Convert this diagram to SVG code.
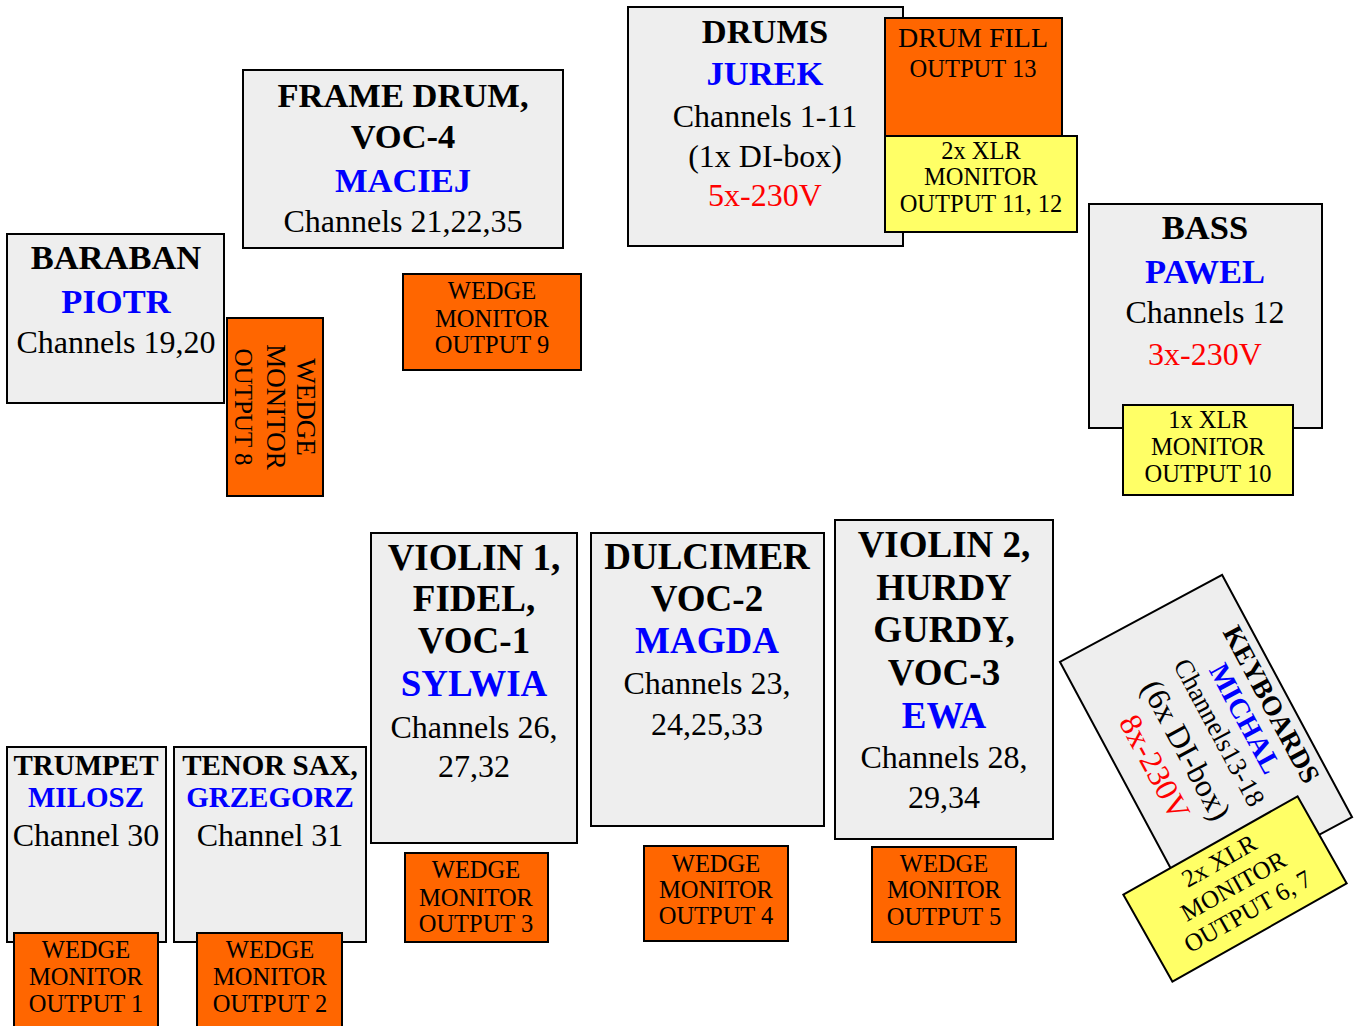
<svg xmlns="http://www.w3.org/2000/svg" width="1356" height="1026" viewBox="0 0 1356 1026">
<style>
text{font-family:"Liberation Serif","Times New Roman",Times,serif;text-anchor:middle;fill:#000}
.box{fill:#eeeeee;stroke:#000;stroke-width:2}
.org{fill:#ff6600;stroke:#000;stroke-width:2}
.yel{fill:#ffff66;stroke:#000;stroke-width:2}
.t{font-weight:bold;font-size:34.5px}
.tb{font-weight:bold;font-size:37px}
.ts{font-weight:bold;font-size:29px}
.blue{fill:#0000ff}
.red{fill:#ff0000}
.c{font-size:32px;font-family:"Liberation Serif",serif}
.w{font-size:24.5px}
</style>
<rect width="1356" height="1026" fill="#ffffff"/>
<g id="connectors"/>
<g id="drums">
<rect class="box" x="628" y="7" width="275" height="239"/>
<text class="t" x="765" y="43">DRUMS</text>
<text class="t blue" x="765" y="85">JUREK</text>
<text class="c" x="765" y="127">Channels 1-11</text>
<text class="c" x="765" y="167">(1x DI-box)</text>
<text class="c red" x="765" y="206">5x-230V</text>
</g>
<g id="drum-fill">
<rect class="org" x="885" y="18" width="177" height="119"/>
<text x="973" y="47" font-size="28">DRUM FILL</text>
<text x="973" y="77" font-size="24.5">OUTPUT 13</text>
</g>
<g id="drum-xlr">
<rect class="yel" x="885" y="136" width="192" height="96"/>
<text class="w" x="981" y="159">2x XLR</text>
<text class="w" x="981" y="185">MONITOR</text>
<text class="w" x="981" y="212">OUTPUT 11, 12</text>
</g>
<g id="frame-drum">
<rect class="box" x="243" y="70" width="320" height="178"/>
<text class="t" x="403" y="107">FRAME DRUM,</text>
<text class="t" x="403" y="148">VOC-4</text>
<text class="t blue" x="403" y="192">MACIEJ</text>
<text class="c" x="403" y="232">Channels 21,22,35</text>
</g>
<g id="wedge9">
<rect class="org" x="403" y="274" width="178" height="96"/>
<text class="w" x="492" y="299">WEDGE</text>
<text class="w" x="492" y="327">MONITOR</text>
<text class="w" x="492" y="353">OUTPUT 9</text>
</g>
<g id="baraban">
<rect class="box" x="7" y="234" width="217" height="169"/>
<text class="t" x="116" y="269">BARABAN</text>
<text class="t blue" x="116" y="313">PIOTR</text>
<text class="c" x="116" y="353">Channels 19,20</text>
</g>
<g id="wedge8">
<rect class="org" x="227" y="318" width="96" height="178"/>
<g transform="translate(275,407) rotate(90)">
<text x="0" y="-22" font-size="27">WEDGE</text>
<text x="0" y="8" font-size="27">MONITOR</text>
<text x="0" y="40" font-size="25">OUTPUT 8</text>
</g>
</g>
<g id="bass">
<rect class="box" x="1089" y="204" width="233" height="224"/>
<text class="t" x="1205" y="239">BASS</text>
<text class="t blue" x="1205" y="283">PAWEL</text>
<text class="c" x="1205" y="323">Channels 12</text>
<text class="c red" x="1205" y="365">3x-230V</text>
</g>
<g id="bass-xlr">
<rect class="yel" x="1123" y="405" width="170" height="90"/>
<text class="w" x="1208" y="428">1x XLR</text>
<text class="w" x="1208" y="455">MONITOR</text>
<text class="w" x="1208" y="482">OUTPUT 10</text>
</g>
<g id="violin1">
<rect class="box" x="371" y="533" width="206" height="310"/>
<text class="tb" x="474" y="570">VIOLIN 1,</text>
<text class="tb" x="474" y="611">FIDEL,</text>
<text class="tb" x="474" y="653">VOC-1</text>
<text class="tb blue" x="474" y="696">SYLWIA</text>
<text class="c" x="474" y="738">Channels 26,</text>
<text class="c" x="474" y="777">27,32</text>
</g>
<g id="wedge3">
<rect class="org" x="405" y="853" width="143" height="89"/>
<text class="w" x="476" y="878">WEDGE</text>
<text class="w" x="476" y="906">MONITOR</text>
<text class="w" x="476" y="932">OUTPUT 3</text>
</g>
<g id="dulcimer">
<rect class="box" x="591" y="533" width="233" height="293"/>
<text class="tb" x="707" y="569">DULCIMER</text>
<text class="tb" x="707" y="611">VOC-2</text>
<text class="tb blue" x="707" y="653">MAGDA</text>
<text class="c" x="707" y="694">Channels 23,</text>
<text class="c" x="707" y="735">24,25,33</text>
</g>
<g id="wedge4">
<rect class="org" x="644" y="846" width="144" height="95"/>
<text class="w" x="716" y="872">WEDGE</text>
<text class="w" x="716" y="898">MONITOR</text>
<text class="w" x="716" y="924">OUTPUT 4</text>
</g>
<g id="violin2">
<rect class="box" x="835" y="520" width="218" height="319"/>
<text class="tb" x="944" y="557">VIOLIN 2,</text>
<text class="tb" x="944" y="600">HURDY</text>
<text class="tb" x="944" y="642">GURDY,</text>
<text class="tb" x="944" y="685">VOC-3</text>
<text class="tb blue" x="944" y="728">EWA</text>
<text class="c" x="944" y="768">Channels 28,</text>
<text class="c" x="944" y="808">29,34</text>
</g>
<g id="wedge5">
<rect class="org" x="872" y="847" width="144" height="95"/>
<text class="w" x="944" y="872">WEDGE</text>
<text class="w" x="944" y="898">MONITOR</text>
<text class="w" x="944" y="925">OUTPUT 5</text>
</g>
<g id="trumpet">
<rect class="box" x="7" y="747" width="159" height="195"/>
<text class="ts" x="86" y="775">TRUMPET</text>
<text class="ts blue" x="86" y="807">MILOSZ</text>
<text class="c" x="86" y="846">Channel 30</text>
</g>
<g id="wedge1">
<rect class="org" x="14" y="933" width="144" height="100"/>
<text class="w" x="86" y="958">WEDGE</text>
<text class="w" x="86" y="985">MONITOR</text>
<text class="w" x="86" y="1012">OUTPUT 1</text>
</g>
<g id="tenor-sax">
<rect class="box" x="174" y="747" width="192" height="195"/>
<text class="ts" x="270" y="775">TENOR SAX,</text>
<text class="ts blue" x="270" y="807">GRZEGORZ</text>
<text class="c" x="270" y="846">Channel 31</text>
</g>
<g id="wedge2">
<rect class="org" x="197" y="933" width="145" height="100"/>
<text class="w" x="270" y="958">WEDGE</text>
<text class="w" x="270" y="985">MONITOR</text>
<text class="w" x="270" y="1012">OUTPUT 2</text>
</g>
<g id="keyboards" transform="translate(1206,739.5) rotate(61.8)">
<rect class="box" x="-137.5" y="-92" width="275" height="184"/>
<text x="0" y="-65" font-size="27.5" font-weight="bold">KEYBOARDS</text>
<text class="blue" x="0" y="-35" font-size="28.5" font-weight="bold">MICHAL</text>
<text x="0" y="-6" font-size="27">Channels13-18</text>
<text x="0" y="33" font-size="32">(6x DI-box)</text>
<text class="red" x="0" y="69" font-size="32">8x-230V</text>
</g>
<g id="keyboards-xlr" transform="translate(1235,889) rotate(-29.4)">
<rect class="yel" x="-100" y="-50" width="200" height="100"/>
<text x="0" y="-24" font-size="25">2x XLR</text>
<text x="0" y="5" font-size="25">MONITOR</text>
<text x="0" y="34" font-size="25">OUTPUT 6, 7</text>
</g>
</svg>
